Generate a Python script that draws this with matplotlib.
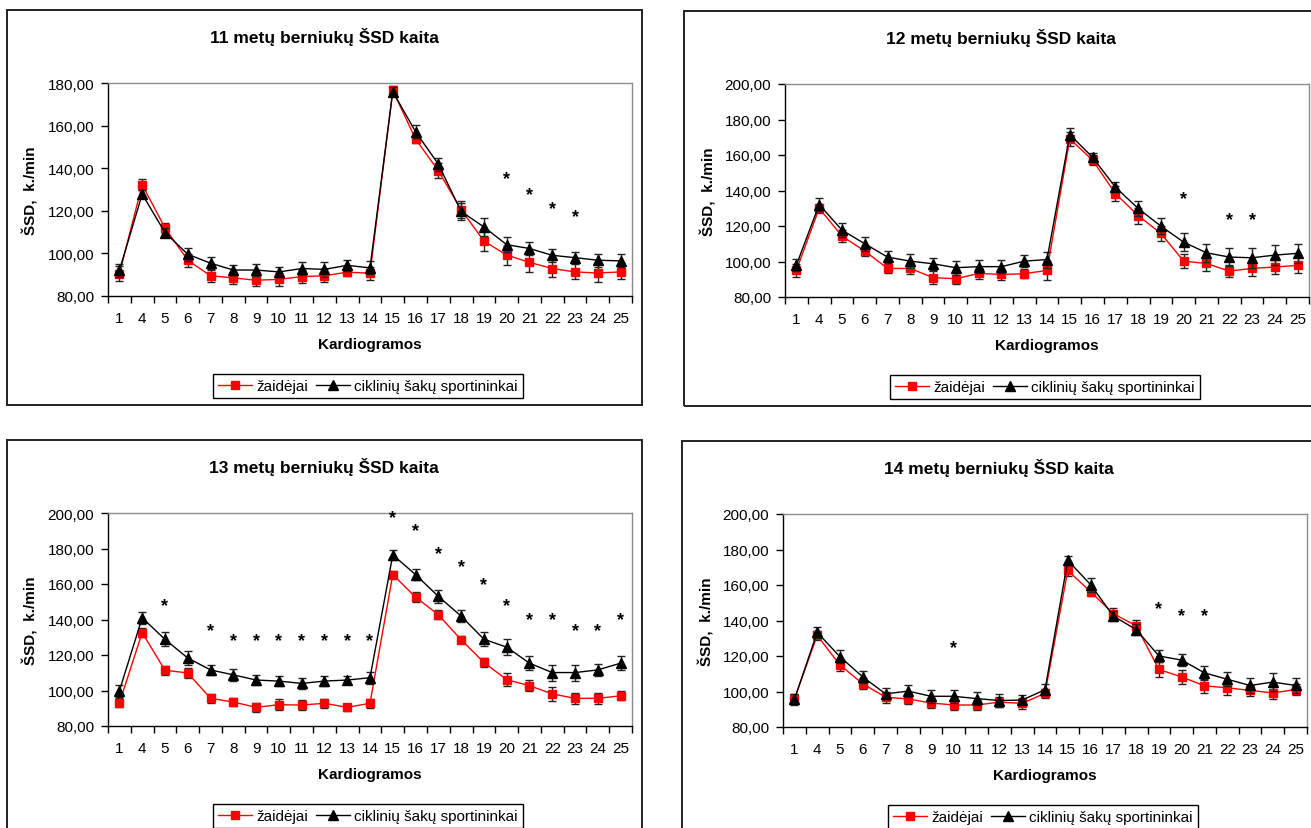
import matplotlib
matplotlib.use("Agg")
import matplotlib.pyplot as plt
from matplotlib.patches import Rectangle
from matplotlib.lines import Line2D
from matplotlib.ticker import FixedLocator, FuncFormatter

plt.rcParams['font.family'] = ['Liberation Sans', 'DejaVu Sans']

categories = ["1", "4", "5", "6", "7", "8", "9", "10", "11", "12", "13", "14",
              "15", "16", "17", "18", "19", "20", "21", "22", "23", "24", "25"]

titles = ["11 metų berniukų ŠSD kaita", "12 metų berniukų ŠSD kaita",
          "13 metų berniukų ŠSD kaita", "14 metų berniukų ŠSD kaita"]
series_names = ["žaidėjai", "ciklinių šakų sportininkai"]
xlabel = "Kardiogramos"
ylabel = "ŠSD,  k./min"

# 11 years
zaid_11 = [90.5, 132.2, 112.0, 96.8, 89.5, 88.5, 87.4, 87.8, 89.1, 89.5, 91.2, 90.7,
           176.5, 153.7, 138.8, 120.5, 105.8, 99.2, 95.8, 92.9, 91.3, 90.8, 91.3]
zaid_11_err = [3.5, 2.5, 2.5, 3, 3, 3, 2.5, 3, 3, 3, 2, 3,
               2, 2, 3.5, 4, 4.5, 4.5, 4.5, 4, 3.5, 4, 3.5]
cikl_11 = [92.0, 127.8, 109.8, 99.6, 95.4, 92.2, 92.2, 91.3, 92.9, 92.5, 94.4, 93.2,
           175.9, 157.1, 141.9, 119.7, 112.4, 104.1, 102.3, 99.1, 98.0, 96.8, 96.5]
cikl_11_err = [3, 2, 2, 3, 3, 2.5, 3, 2.5, 3, 3.5, 2.5, 3,
               2, 3, 3, 4, 4, 3.5, 3, 3, 2.5, 3, 3]
star_11_x = ["20", "21", "22", "23"]
star_11_y = [137.2, 129.8, 123.1, 119.2]

# 12 years
zaid_12 = [95.0, 130.0, 114.3, 105.9, 96.1, 96.1, 90.9, 90.3, 93.3, 92.7, 93.1, 95.0,
           169.1, 157.1, 138.3, 125.9, 115.8, 100.2, 98.9, 94.6, 96.1, 96.9, 97.8]
zaid_12_err = [3.5, 2.5, 3.5, 3, 2.5, 3, 3.5, 3, 3, 3, 2.5, 5.5,
               4, 3, 4, 4.5, 4, 4, 4, 3.5, 4, 4, 4.5]
cikl_12 = [98.0, 132.1, 117.7, 110.0, 102.5, 100.2, 98.7, 96.5, 97.1, 97.1, 100.2, 101.1,
           171.5, 158.7, 141.9, 129.9, 119.9, 110.9, 104.9, 102.5, 102.1, 103.6, 104.6]
cikl_12_err = [3.5, 3.5, 4, 4, 3.5, 4, 3.5, 4, 3.5, 3.5, 3.5, 4.5,
               3.5, 2.5, 3, 4, 4.5, 5, 5, 5, 5.5, 5.5, 5.5]
star_12_x = ["20", "22", "23"]
star_12_y = [137.7, 126.1, 126.1]

# 13 years
zaid_13 = [93.0, 132.6, 111.4, 109.9, 95.6, 93.5, 90.5, 92.0, 91.8, 92.8, 90.5, 92.8,
           165.3, 152.6, 142.7, 128.6, 115.8, 106.1, 102.7, 98.1, 95.6, 95.6, 97.0]
zaid_13_err = [2.5, 2.5, 2.5, 3, 2.5, 2.5, 2.5, 3, 3, 2.5, 2, 2.5,
               2, 3, 2.5, 2, 2.5, 3.5, 3, 4, 3, 3, 2.5]
cikl_13 = [99.8, 141.0, 128.8, 118.3, 111.6, 108.8, 105.9, 105.3, 104.0, 105.3, 105.9, 107.2,
           176.4, 165.3, 153.0, 141.9, 128.9, 124.4, 115.4, 110.1, 110.1, 111.6, 115.4]
cikl_13_err = [3.5, 3.5, 4, 4, 3, 3.5, 3, 3, 3, 3, 2.5, 3.5,
               3, 3, 3.5, 3.5, 4, 4.5, 4, 4.5, 4.5, 3.5, 4]
star_13_x = ["5", "7", "8", "9", "10", "11", "12", "13", "14", "15", "16", "17",
             "18", "19", "20", "21", "22", "23", "24", "25"]
star_13_y = [150.5, 136.2, 130.5, 130.5, 130.5, 130.5, 130.5, 130.5, 130.5, 199.6,
             192.4, 179.6, 172.0, 162.1, 150.5, 142.1, 142.1, 136.4, 136.4, 142.1]

# 14 years
zaid_14 = [95.8, 131.6, 114.9, 104.4, 96.8, 95.8, 93.5, 92.4, 92.4, 94.0, 93.3, 99.0,
           168.2, 156.2, 143.8, 137.1, 112.4, 108.2, 103.2, 102.1, 100.6, 99.2, 101.1]
zaid_14_err = [3, 2.5, 3.5, 3, 3, 3, 3, 3, 3, 3, 3, 2.5,
               3, 2.5, 3, 3, 4, 4, 4, 4, 3, 3.5, 3]
cikl_14 = [95.5, 133.3, 119.6, 108.2, 98.7, 100.2, 97.3, 97.3, 96.0, 94.9, 95.2, 101.0,
           173.9, 160.2, 142.5, 134.9, 120.0, 117.7, 110.5, 106.9, 103.4, 105.3, 103.4]
cikl_14_err = [3, 3, 3.5, 3.5, 3, 3.5, 3.5, 3.5, 3.5, 3.5, 3, 3,
               2.5, 4, 3, 3, 3.5, 3.5, 4, 4, 4, 5, 4]
star_14_x = ["10", "19", "20", "21"]
star_14_y = [126.9, 149.1, 145.3, 145.3]

y_ranges = [(80, 180), (80, 200), (80, 200), (80, 200)]

panels = [
    (zaid_11, zaid_11_err, cikl_11, cikl_11_err, star_11_x, star_11_y),
    (zaid_12, zaid_12_err, cikl_12, cikl_12_err, star_12_x, star_12_y),
    (zaid_13, zaid_13_err, cikl_13, cikl_13_err, star_13_x, star_13_y),
    (zaid_14, zaid_14_err, cikl_14, cikl_14_err, star_14_x, star_14_y),
]

# layout (pixels of the 1311x829 image)
FW, FH = 1311, 829
origins = [(7, 11), (684, 12), (7, 441), (682, 442)]
BW, BH = 635, 395

fig = plt.figure(figsize=(FW / 100, FH / 100), dpi=100)
fig.patch.set_facecolor("white")


def fx(px):
    return px / FW


def fy(py):
    return 1 - py / FH


xpos = list(range(len(categories)))
comma_fmt = FuncFormatter(lambda v, p: f"{v:.2f}".replace(".", ","))

for i, (bx, by) in enumerate(origins):
    zd, zde, ck, cke, sx, sy = panels[i]
    # outer chart border
    fig.patches.append(Rectangle((fx(bx), fy(by + BH)), BW / FW, BH / FH,
                                 transform=fig.transFigure, fill=False,
                                 edgecolor="#222222", linewidth=1.4, zorder=0))
    left, right, top, bottom = bx + 101, bx + 625, by + 73, by + 286
    ax = fig.add_axes([fx(left), fy(bottom), (right - left) / FW, (bottom - top) / FH])
    ax.set_facecolor("white")
    ax.errorbar(xpos, zd, yerr=zde, color="#ff0000", marker="s", markersize=5.5,
                markeredgecolor="#ff0000", linewidth=1.0, ecolor="#222222",
                elinewidth=1.0, capsize=3.2, capthick=1.0, zorder=3)
    ax.errorbar(xpos, ck, yerr=cke, color="black", marker="^", markersize=6.5,
                linewidth=1.0, ecolor="#222222", elinewidth=1.0, capsize=3.2,
                capthick=1.0, zorder=4)
    sxi = [categories.index(c) for c in sx]
    for xs, ys in zip(sxi, sy):
        ax.annotate("*", (xs, ys), xytext=(0, -6.3), textcoords="offset points",
                    ha="center", va="baseline", fontsize=13, fontweight="bold",
                    color="black", annotation_clip=False, zorder=5)

    ax.set_xlim(-0.5, len(categories) - 0.5)
    ax.set_ylim(*y_ranges[i])
    ax.set_xticks(xpos)
    ax.set_xticklabels(categories, fontsize=11)
    ax.xaxis.set_minor_locator(FixedLocator([k - 0.5 for k in range(len(categories) + 1)]))
    ax.tick_params(axis="x", which="major", length=0, pad=11)
    ax.tick_params(axis="x", which="minor", length=5, width=1, direction="out")
    ax.yaxis.set_major_locator(FixedLocator(list(range(y_ranges[i][0], y_ranges[i][1] + 1, 20))))
    ax.yaxis.set_major_formatter(comma_fmt)
    ax.tick_params(axis="y", which="major", length=5, width=1, direction="out",
                   labelsize=11, pad=5)
    for s in ("top", "right"):
        ax.spines[s].set_color("#8c8c8c")
        ax.spines[s].set_linewidth(1.0)
    for s in ("left", "bottom"):
        ax.spines[s].set_color("black")
        ax.spines[s].set_linewidth(1.0)

    fig.text(fx(bx + 317), fy(by + 26), titles[i], ha="center", va="center",
             fontsize=12.5, fontweight="bold")
    fig.text(fx(bx + 24), fy((top + bottom) / 2), ylabel, ha="center", va="center",
             rotation=90, fontsize=11, fontweight="bold")
    fig.text(fx((left + right) / 2), fy(by + 334), xlabel, ha="center", va="center",
             fontsize=11, fontweight="bold")
    handles = [
        Line2D([], [], color="#ff0000", marker="s", markersize=5.5, linewidth=1.0),
        Line2D([], [], color="black", marker="^", markersize=6.5, linewidth=1.0),
    ]
    leg = ax.legend(handles, series_names, loc="center",
                    bbox_to_anchor=(fx(bx + 361), fy(by + 376)),
                    bbox_transform=fig.transFigure, ncol=2, fontsize=11,
                    frameon=True, fancybox=False, shadow=False, framealpha=1,
                    edgecolor="black", handlelength=2.2, handletextpad=0.3,
                    columnspacing=0.5, borderpad=0.35, borderaxespad=0)
    leg.get_frame().set_linewidth(1.0)

fig.savefig("out.png", dpi=100, facecolor="white")
